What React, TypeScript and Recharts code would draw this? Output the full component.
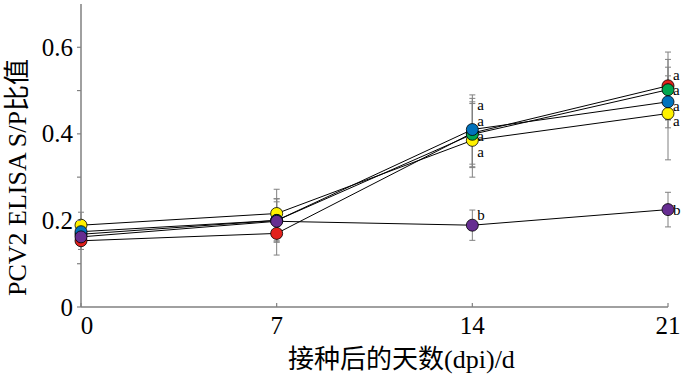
import { ComposedChart, Line, XAxis, YAxis, ErrorBar, Scatter } from 'recharts';

const days = [0, 7, 14, 21];

// S/P values per group
const redValues = [0.153, 0.17, 0.402, 0.511];
const redErrors = [0.02, 0.05, 0.08, 0.078];
const yellowValues = [0.189, 0.216, 0.385, 0.447];
const yellowErrors = [0.03, 0.056, 0.085, 0.107];
const greenValues = [0.168, 0.2, 0.399, 0.502];
const greenErrors = [0.02, 0.05, 0.075, 0.07];
const blueValues = [0.174, 0.2, 0.41, 0.474];
const blueErrors = [0.02, 0.05, 0.08, 0.06];
const purpleValues = [0.162, 0.198, 0.189, 0.225];
const purpleErrors = [0.02, 0.045, 0.035, 0.04];

const yTicks = [0, 0.1, 0.2, 0.3, 0.4, 0.5, 0.6];

// significance letters (day, y position, letter)
const letterDays = [14, 14, 14, 14, 14, 21, 21, 21, 21, 21];
const letterYs = [0.466, 0.43, 0.394, 0.358, 0.212, 0.537, 0.501, 0.465, 0.429, 0.224];
const letterTexts = ['a', 'a', 'a', 'a', 'b', 'a', 'a', 'a', 'a', 'b'];

const FONT = "'Liberation Serif', 'Noto Sans CJK SC', serif";

const makeSeries = (vals: number[], errs: number[]) =>
    days.map((d, i) => ({ x: d, y: vals[i], err: errs[i] }));

const series = [
    { name: 'red', color: '#e2211c', data: makeSeries(redValues, redErrors) },
    { name: 'yellow', color: '#fff200', data: makeSeries(yellowValues, yellowErrors) },
    { name: 'green', color: '#00a651', data: makeSeries(greenValues, greenErrors) },
    { name: 'blue', color: '#0072bc', data: makeSeries(blueValues, blueErrors) },
    { name: 'purple', color: '#662d91', data: makeSeries(purpleValues, purpleErrors) },
];

const letters = letterDays.map((d, i) => ({ x: d, y: letterYs[i], t: letterTexts[i] }));

const YTick = ({ x, y, payload }: any) => {
    const v = payload.value;
    const labeled = Math.round(v * 10) % 2 === 0;
    return (
        <g>
            <line x1={x - 4} x2={x} y1={y} y2={y} stroke="#808080" strokeWidth={1.2} />
            {labeled && (
                <text x={x - 8} y={y} textAnchor="end" dominantBaseline="central" fontFamily={FONT} fontSize={25} fill="#000">
                    {v === 0 ? '0' : v.toFixed(1)}
                </text>
            )}
        </g>
    );
};

const XTick = ({ x, y, payload }: any) => {
    const v = payload.value;
    return (
        <g>
            <line x1={x} x2={x} y1={y} y2={y - 4} stroke="#808080" strokeWidth={1.2} />
            <text x={v === 0 ? x + 6 : x} y={y + 27} textAnchor="middle" fontFamily={FONT} fontSize={25} fill="#000">
                {v}
            </text>
        </g>
    );
};

const LetterShape = (props: any) => (
    <text x={props.cx + 5} y={props.cy} dominantBaseline="central" fontFamily={FONT} fontSize={15} fill="#000">
        {props.payload.t}
    </text>
);

export default function App() {
    return (
        <div style={{ position: 'absolute', left: 0, top: 0 }}>
            <ComposedChart width={685} height={378} margin={{ top: 4, right: 17, bottom: 0, left: 0 }}>
                <XAxis
                    dataKey="x"
                    type="number"
                    domain={[0, 21]}
                    ticks={days}
                    height={71}
                    tickSize={0}
                    tickMargin={0}
                    tickLine={false}
                    tick={<XTick />}
                    stroke="#808080"
                    strokeWidth={1.5}
                    allowDuplicatedCategory={false}
                    label={({ viewBox }: any) => (
                        <text
                            x={viewBox.x + viewBox.width / 2 + 27}
                            y={viewBox.y + 61}
                            textAnchor="middle"
                            fontFamily={FONT}
                            fontSize={26}
                            fill="#000"
                        >
                            接种后的天数(dpi)/d
                        </text>
                    )}
                />
                <YAxis
                    dataKey="y"
                    type="number"
                    domain={[0, 0.7]}
                    ticks={yTicks}
                    width={81}
                    tickSize={0}
                    tickMargin={0}
                    tickLine={false}
                    tick={<YTick />}
                    stroke="#808080"
                    strokeWidth={1.5}
                    label={({ viewBox }: any) => {
                        const cx = viewBox.x + 17;
                        const cy = viewBox.y + viewBox.height / 2 + 22;
                        return (
                            <text
                                x={cx}
                                y={cy}
                                transform={`rotate(-90 ${cx} ${cy})`}
                                textAnchor="middle"
                                dominantBaseline="central"
                                fontFamily={FONT}
                                fontSize={26}
                                fill="#000"
                            >
                                PCV2 ELISA S/P比值
                            </text>
                        );
                    }}
                />
                {series.map((s) => (
                    <Line
                        key={s.name}
                        data={s.data}
                        dataKey="y"
                        stroke="#000"
                        strokeWidth={1}
                        dot={{ r: 6, fill: s.color, stroke: '#000', strokeWidth: 0.8 }}
                        activeDot={false}
                        isAnimationActive={false}
                    >
                        <ErrorBar dataKey="err" direction="y" width={3} stroke="#808080" strokeWidth={1} />
                    </Line>
                ))}
                <Scatter data={letters} dataKey="y" shape={<LetterShape />} isAnimationActive={false} />
            </ComposedChart>
        </div>
    );
}
